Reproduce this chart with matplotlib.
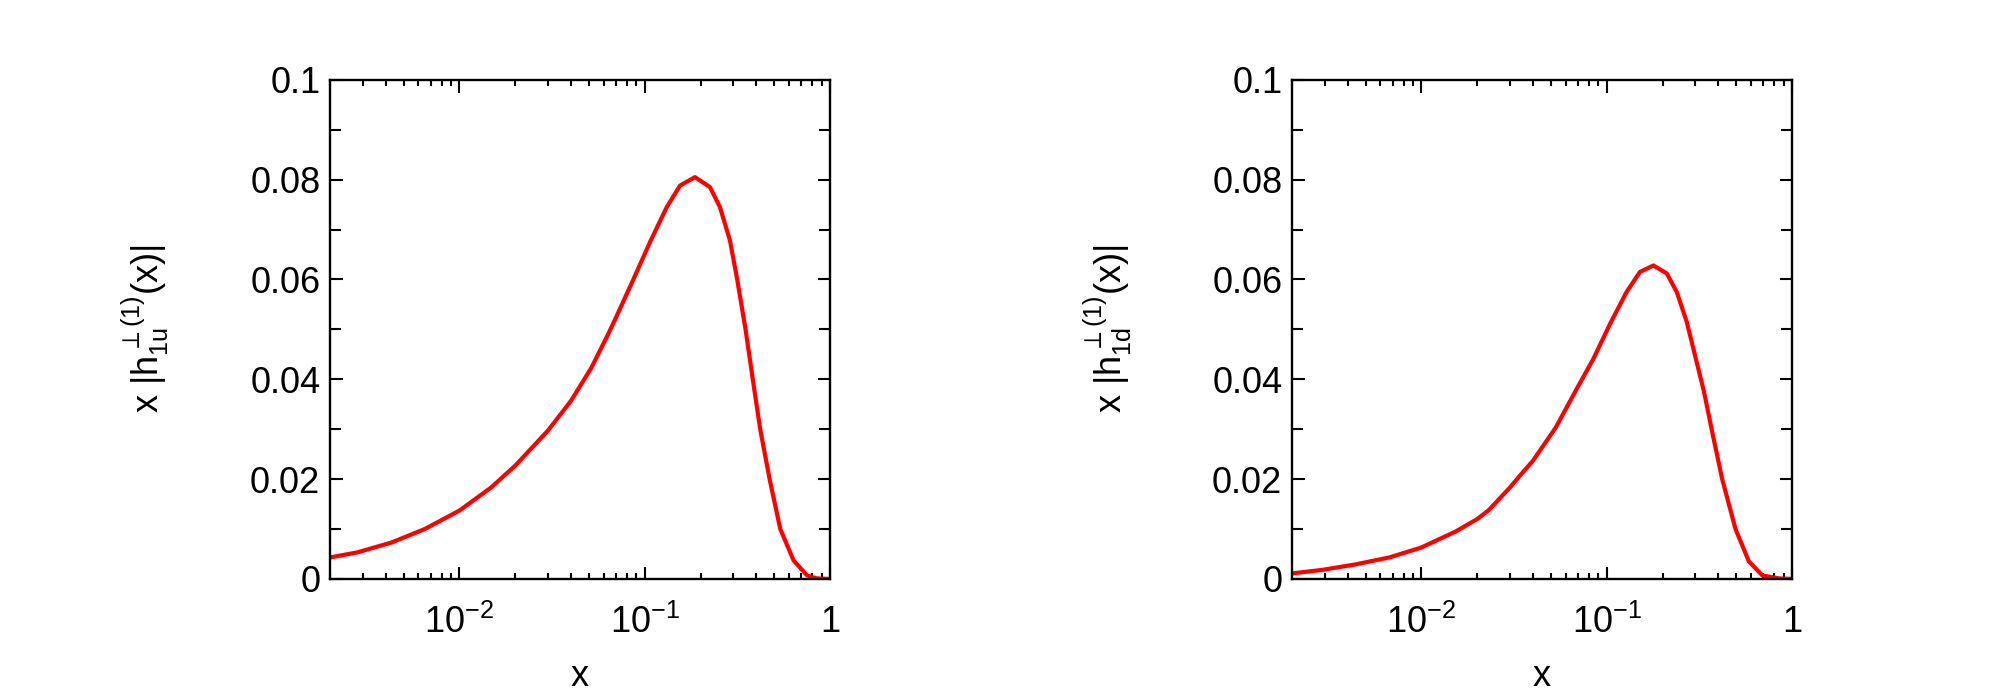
import numpy as np
import matplotlib
matplotlib.use('Agg')
import matplotlib.pyplot as plt
from matplotlib.ticker import LogLocator, MultipleLocator, FixedLocator, FixedFormatter

plt.rcParams['font.family'] = ['Liberation Sans', 'DejaVu Sans']
plt.rcParams['mathtext.fontset'] = 'custom'
plt.rcParams['mathtext.rm'] = 'Liberation Sans'
plt.rcParams['mathtext.it'] = 'Liberation Sans'
plt.rcParams['mathtext.bf'] = 'Liberation Sans:bold'

# u quark: x |h1u^perp(1)(x)|
x_u = [0.002, 0.0028, 0.0043, 0.0065, 0.01, 0.0148, 0.02, 0.03, 0.04, 0.0515,
       0.0634, 0.0706, 0.0868, 0.1068, 0.1315, 0.155, 0.1868, 0.225, 0.2547, 0.2884,
       0.3155, 0.35, 0.383, 0.420, 0.472, 0.539, 0.636, 0.752, 0.85, 1.0]
y_u = [0.0043, 0.0053, 0.0073, 0.0100, 0.0137, 0.0183, 0.0227, 0.0297, 0.0357, 0.0423,
       0.0490, 0.0527, 0.0600, 0.0675, 0.0745, 0.0788, 0.0805, 0.0785, 0.0745, 0.0678,
       0.0600, 0.0500, 0.0400, 0.0300, 0.0200, 0.0100, 0.0037, 0.0007, 0.0001, 0.0]

# d quark: x |h1d^perp(1)(x)|
x_d = [0.002, 0.0029, 0.0044, 0.0067, 0.01, 0.0153, 0.02, 0.0231, 0.03, 0.034,
       0.04, 0.053, 0.0689, 0.0847, 0.1042, 0.128, 0.151, 0.1786, 0.211, 0.2387,
       0.2703, 0.306, 0.335, 0.3706, 0.4198, 0.4955, 0.585, 0.692, 0.85, 1.0]
y_d = [0.0011, 0.0018, 0.0029, 0.0043, 0.0063, 0.0095, 0.0120, 0.0138, 0.0183, 0.0207,
       0.0237, 0.0303, 0.0381, 0.0441, 0.0511, 0.0575, 0.0615, 0.0628, 0.0612, 0.0575,
       0.0515, 0.0434, 0.0375, 0.0295, 0.0200, 0.0100, 0.0035, 0.0007, 0.0001, 0.0]

ylabels = [r'x $|h_{1u}^{\perp(1)}(x)|$', r'x $|h_{1d}^{\perp(1)}(x)|$']
xtick_vals = [0.01, 0.1, 1]
xtick_txt = [r'$10^{-2}$', r'$10^{-1}$', '1']
ytick_vals = [0, 0.02, 0.04, 0.06, 0.08, 0.1]
ytick_txt = ['0', '0.02', '0.04', '0.06', '0.08', '0.1']

fig = plt.figure(figsize=(20, 7), dpi=100)
lefts = [0.165, 0.646]
series = [(x_u, y_u), (x_d, y_d)]

for left, (xs, ys), ylab in zip(lefts, series, ylabels):
    ax = fig.add_axes([left, 0.173, 0.25, 0.713])
    ax.plot(xs, ys, color='#ff0000', lw=3.0, solid_joinstyle='round')
    ax.set_xscale('log')
    ax.set_xlim(0.002, 1)
    ax.set_ylim(0, 0.1)

    ax.xaxis.set_major_locator(FixedLocator(xtick_vals))
    ax.xaxis.set_major_formatter(FixedFormatter(xtick_txt))
    ax.xaxis.set_minor_locator(LogLocator(base=10, subs=np.arange(2, 10)))
    ax.xaxis.set_minor_formatter(FixedFormatter([]))
    ax.yaxis.set_major_locator(FixedLocator(ytick_vals))
    ax.yaxis.set_major_formatter(FixedFormatter(ytick_txt))
    ax.yaxis.set_minor_locator(MultipleLocator(0.01))

    ax.tick_params(which='both', direction='in', top=True, right=True,
                   width=1.5, labelsize=26, color='black')
    ax.tick_params(which='major', length=9)
    ax.tick_params(axis='x', which='minor', length=4)
    ax.tick_params(axis='y', which='minor', length=8)
    ax.tick_params(axis='y', pad=7)
    ax.tick_params(axis='x', pad=19)
    for s in ax.spines.values():
        s.set_linewidth(1.7)

    ax.set_xlabel('x', fontsize=26)
    ax.xaxis.set_label_coords(0.5, -0.16)
    ax.set_ylabel(ylab, fontsize=26)
    ax.yaxis.set_label_coords(-0.317, 0.5)

fig.savefig('out.png', dpi=100)
